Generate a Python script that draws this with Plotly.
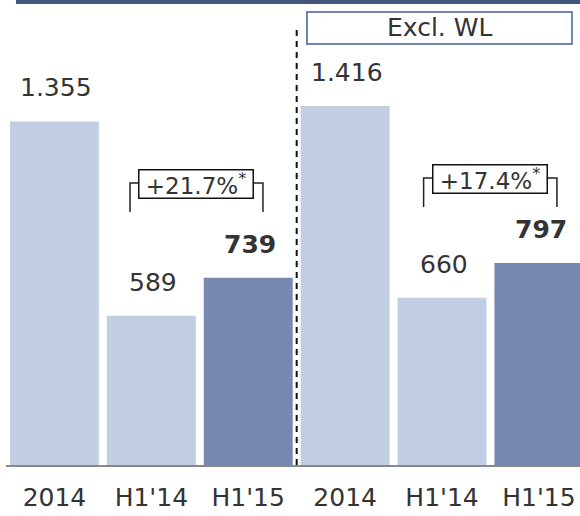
import plotly.graph_objects as go

# ---- data ----
categories = ["2014", "H1'14", "H1'15", "2014", "H1'14", "H1'15"]
values = [1355, 589, 739, 1416, 660, 797]
value_labels = ["1.355", "589", "739", "1.416", "660", "797"]
bold_flags = [False, False, True, False, False, True]
bar_colors = ["#C2CFE3", "#C2CFE3", "#7589B1", "#C2CFE3", "#C2CFE3", "#7589B1"]
growth_labels = ["+21.7%", "+17.4%"]
section_label = "Excl. WL"

FONT = "DejaVu Sans"
TXT = "#333333"

xs = list(range(len(values)))

fig = go.Figure()
fig.add_trace(go.Bar(
    x=xs, y=values, marker=dict(color=bar_colors, line=dict(width=0)),
    hoverinfo="skip", showlegend=False,
))

annotations = []
for x, v, lab, b in zip(xs, values, value_labels, bold_flags):
    annotations.append(dict(
        x=x, y=v, xref="x", yref="y", xanchor="center", yanchor="bottom", yshift=17, xshift=2,
        text=f"<b>{lab}</b>" if b else lab, showarrow=False,
        font=dict(family=FONT, size=25, color=TXT),
    ))

# growth brackets
brackets = [
    dict(left=0.78, right=2.152, top=1112, bottom=998, cx=1.466, cy=1108),
    dict(left=3.81, right=5.186, top=1132, bottom=1018, cx=4.5, cy=1130),
]
shapes = []
for br, g in zip(brackets, growth_labels):
    shapes.append(dict(
        type="path", xref="x", yref="y",
        path=f"M {br['left']},{br['bottom']} L {br['left']},{br['top']} L {br['right']},{br['top']} L {br['right']},{br['bottom']}",
        line=dict(color="#222222", width=1.5),
    ))
    annotations.append(dict(
        x=br["cx"], y=br["cy"], xref="x", yref="y", xanchor="center", yanchor="middle",
        text=f"{g}<sup>*</sup>", showarrow=False,
        font=dict(family=FONT, size=23, color=TXT),
        width=113, height=27, align="center", valign="middle",
        bgcolor="white", bordercolor="#111111", borderwidth=1.5, borderpad=0,
    ))

# top band
shapes.append(dict(type="rect", xref="paper", yref="paper", x0=0.0174, x1=1.0, y0=0.9914, y1=1.0,
                   fillcolor="#42567E", line=dict(width=0)))
# Excl. WL box
shapes.append(dict(type="rect", xref="paper", yref="paper", x0=0.5244, x1=0.986, y0=0.9054, y1=0.9742,
                   fillcolor="white", line=dict(color="#6F86AE", width=2)))
annotations.append(dict(x=0.755, y=0.94, xref="paper", yref="paper", xanchor="center", yanchor="middle",
                        text=section_label, showarrow=False,
                        font=dict(family=FONT, size=25, color=TXT)))
# dashed separator
shapes.append(dict(type="line", xref="x", yref="paper", x0=2.5, x1=2.5, y0=0, y1=0.9355,
                   line=dict(color="#111111", width=2, dash="6px,5px")))

fig.update_layout(
    width=580, height=516,
    margin=dict(l=6, r=0, t=0, b=51),
    paper_bgcolor="white", plot_bgcolor="white",
    bargap=0.082,
    shapes=shapes, annotations=annotations,
    xaxis=dict(range=[-0.5, 5.424], tickmode="array", tickvals=xs, ticktext=categories,
               showgrid=False, zeroline=False, showline=True, linecolor="#888888", linewidth=1.5,
               ticks="", ticklabelstandoff=9,
               tickfont=dict(family=FONT, size=25, color=TXT)),
    yaxis=dict(range=[0, 1834], visible=False, showgrid=False, zeroline=False),
)

fig.write_html("out.html", config={"displayModeBar": False},
               post_script="document.body.style.margin='0';document.body.style.overflow='hidden';")
